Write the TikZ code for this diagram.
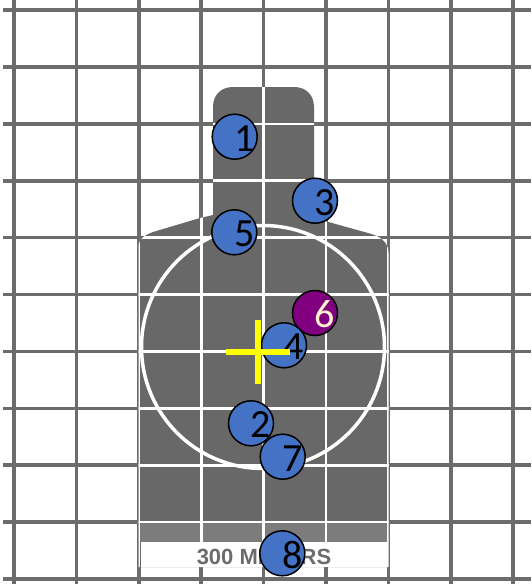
\documentclass[tikz,border=0pt]{standalone}
\usepackage{fontspec}
\usepackage{xcolor}
\usepackage{tikz}
\usetikzlibrary{positioning}
\newfontfamily\digitfont{Carlito}
\newfontfamily\platefont{Liberation Sans}
\definecolor{gridgray}{RGB}{108,108,108}
\definecolor{inkgray}{RGB}{104,104,104}
\definecolor{dotgray}{RGB}{124,124,124}
\definecolor{hitblue}{RGB}{68,114,196}
\definecolor{hitpurple}{RGB}{128,0,128}
\definecolor{paleyellow}{RGB}{255,242,204}
\definecolor{aimyellow}{RGB}{255,255,0}

\def\targetoutline{(138.5,567) -- (138.5,247) .. controls (138.5,239) and (145,235) .. (153,232)
  -- (200,218) -- (213,215) -- (213,107) .. controls (213,95) and (221,87) .. (233,87)
  -- (294,87) .. controls (306,87) and (314,95) .. (314,107) -- (314,218) -- (368,233)
  .. controls (380,236) and (388.5,242) .. (388.5,253) -- (388.5,567) -- cycle}

\begin{document}
\begin{tikzpicture}[x=1pt, y=-1pt,
  gridline/.style={draw=gridgray, line width=3.6pt},
  whiteline/.style={draw=white, line width=2.6pt},
  hit/.style={circle, draw=black, line width=1.5pt, fill=hitblue, minimum size=45pt, inner sep=0pt},
  flyer/.style={hit, fill=hitpurple},
  num/.style={font=\digitfont\fontsize{40}{40}\selectfont, inner sep=0pt, xshift=10pt, yshift=-1.5pt},
  platetext/.style={font=\platefont\bfseries\fontsize{22}{22}\selectfont, text=gridgray, inner sep=0pt}]
\fill[white] (0,0) rectangle (531,584);
\useasboundingbox (0,0) rectangle (531,584);
% paper grid
\foreach \i in {0,...,8}
  \draw[gridline] (14+62.4*\i,0) -- (14+62.4*\i,584);
\foreach \j in {0,...,10}
  \draw[gridline] (3,10+56.9*\j) -- (531,10+56.9*\j);
% silhouette
\fill[inkgray] \targetoutline;
\begin{scope}
  \clip \targetoutline;
  \fill[dotgray] (130,521) rectangle (400,542);
  \foreach \i in {0,...,8}
    \draw[whiteline] (14+62.4*\i,80) -- (14+62.4*\i,570);
  \foreach \j in {0,...,10}
    \draw[whiteline] (130,10+56.9*\j) -- (400,10+56.9*\j);
  \draw[white, line width=3.5pt] (263,347) circle[radius=121.5];
\end{scope}
% range plate
\node[fill=white, minimum width=247pt, minimum height=25pt, inner sep=0pt] (plate) at (264,554.5) {};
\node[platetext] (range) at ([yshift=-2pt]plate.center) {300 METERS};
% hits
\foreach \n/\px/\py in {1/234.7/136.7, 3/315/200.7, 5/234.3/232.3}{
  \node[hit] (d\n) at (\px,\py) {};
  \node[num] (n\n) at (d\n) {\n};
}
\node[flyer] (d6) at (315,313) {};
\node[num, text=paleyellow] (n6) at (d6) {6};
\foreach \n/\px/\py in {4/284/345.3, 2/251/423.3, 7/282.7/456.7, 8/282.3/553.3}{
  \node[hit] (d\n) at (\px,\py) {};
  \node[num] (n\n) at (d\n) {\n};
}
% point of aim
\coordinate (aim) at (258.3,352.3);
\draw[aimyellow, line width=6pt] ([xshift=-32pt]aim) -- ([xshift=32pt]aim);
\draw[aimyellow, line width=6pt] ([yshift=-32pt]aim) -- ([yshift=32pt]aim);
\end{tikzpicture}
\end{document}
